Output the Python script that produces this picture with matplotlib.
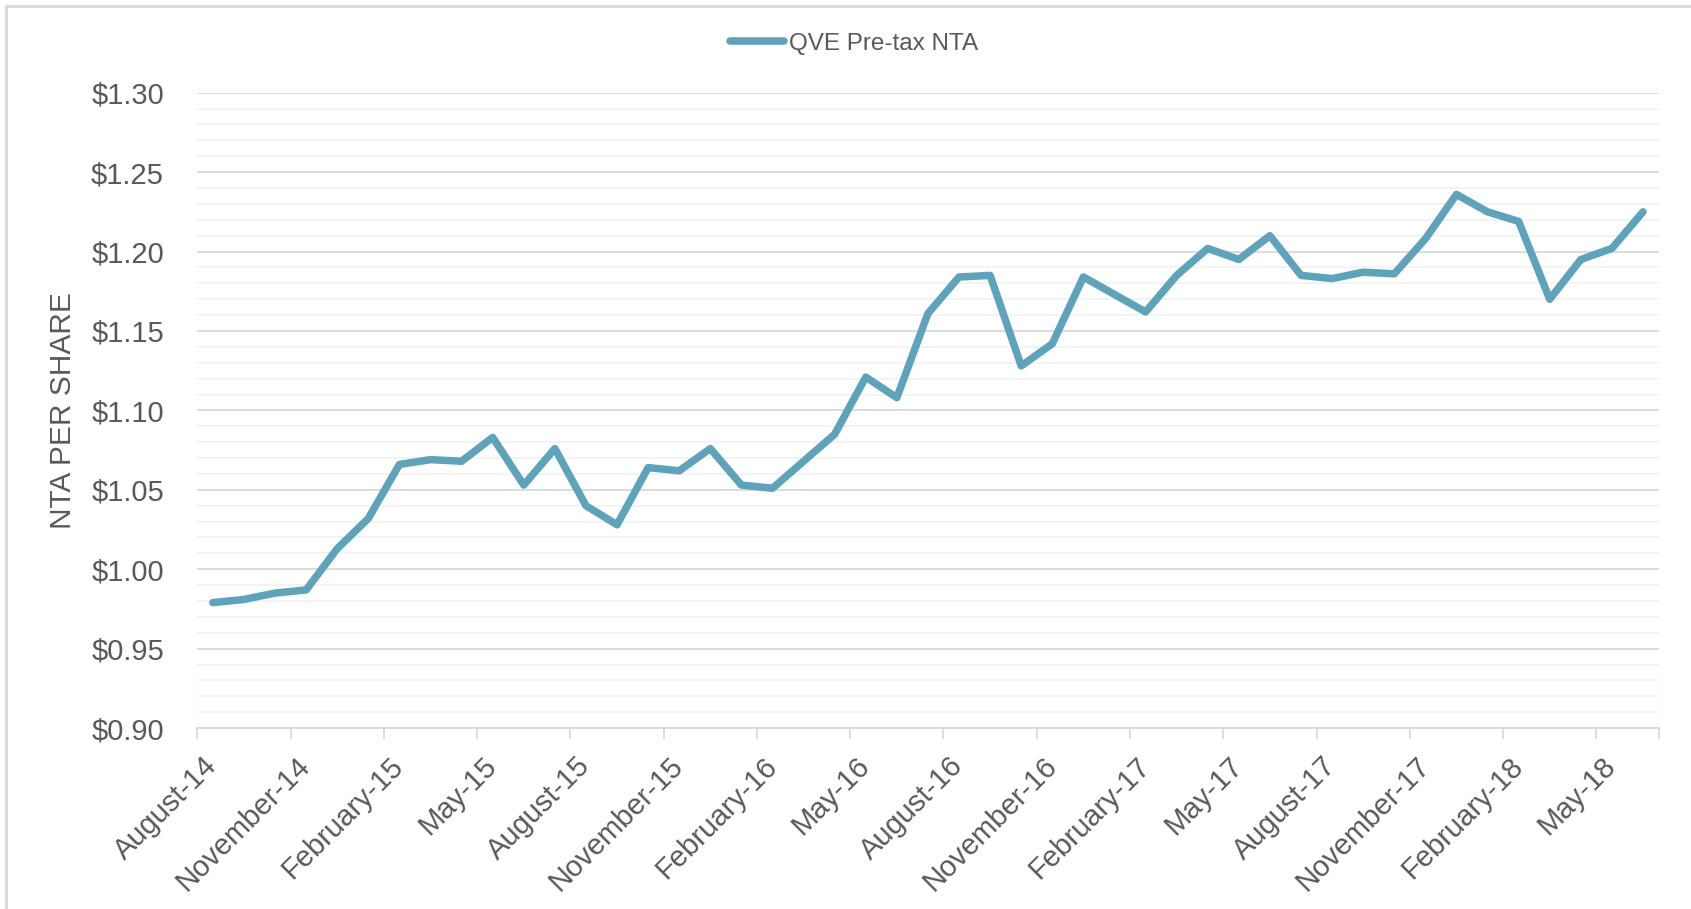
import matplotlib
matplotlib.use('Agg')
import matplotlib.pyplot as plt
import matplotlib.ticker as mtick
from matplotlib.patches import Rectangle

# monthly pre-tax NTA per share, Aug-14 .. Jun-18
months = ['August-14', 'September-14', 'October-14', 'November-14', 'December-14',
          'January-15', 'February-15', 'March-15', 'April-15', 'May-15', 'June-15',
          'July-15', 'August-15', 'September-15', 'October-15', 'November-15',
          'December-15', 'January-16', 'February-16', 'March-16', 'April-16',
          'May-16', 'June-16', 'July-16', 'August-16', 'September-16', 'October-16',
          'November-16', 'December-16', 'January-17', 'February-17', 'March-17',
          'April-17', 'May-17', 'June-17', 'July-17', 'August-17', 'September-17',
          'October-17', 'November-17', 'December-17', 'January-18', 'February-18',
          'March-18', 'April-18', 'May-18', 'June-18']
nta = [0.979, 0.981, 0.985, 0.987, 1.013, 1.032, 1.066, 1.069, 1.068, 1.083,
       1.053, 1.076, 1.040, 1.028, 1.064, 1.062, 1.076, 1.053, 1.051, 1.068,
       1.085, 1.121, 1.108, 1.161, 1.184, 1.185, 1.128, 1.142, 1.184, 1.173,
       1.162, 1.185, 1.202, 1.195, 1.210, 1.185, 1.183, 1.187, 1.186, 1.208,
       1.236, 1.225, 1.219, 1.170, 1.195, 1.202, 1.225]
series_name = 'QVE Pre-tax NTA'

plt.rcParams['font.family'] = ['Liberation Sans', 'DejaVu Sans']
txt = '#595959'

fig = plt.figure(figsize=(16.91, 9.09), dpi=100)
ax = fig.add_axes([0.1167, 0.199, 0.9808 - 0.1167, 0.898 - 0.199])

# outer frame (cut off at right/bottom as in the source)
fig.patches.append(Rectangle((6 / 1691, -0.1), 1.2, 1.1 - 6 / 909,
                             transform=fig.transFigure, fill=False,
                             edgecolor='#D9D9D9', lw=2))

x = list(range(len(months)))
ax.plot(x, nta, color='#5FA3BB', lw=5.4, solid_joinstyle='round',
        solid_capstyle='round', label=series_name, zorder=3)

ax.set_xlim(-0.5, len(months) - 0.5)
ax.set_ylim(0.90, 1.30)
ax.yaxis.set_major_locator(mtick.MultipleLocator(0.05))
ax.yaxis.set_minor_locator(mtick.MultipleLocator(0.01))
ax.yaxis.set_major_formatter(mtick.StrMethodFormatter('${x:.2f}'))
ax.grid(True, which='major', axis='y', color='#D9D9D9', lw=1.3)
ax.grid(True, which='minor', axis='y', color='#F2F2F2', lw=1.3)
ax.set_axisbelow(True)

ax.set_xticks(x[::3])
ax.set_xticklabels(months[::3], rotation=45, ha='right', va='center',
                   rotation_mode='anchor')
ax.set_xticks([i - 0.5 for i in x[::3]] + [len(months) - 0.5], minor=True)
ax.tick_params(axis='x', which='major', length=0, pad=24, labelsize=21, labelcolor=txt)
ax.tick_params(axis='x', which='minor', length=8, color='#D9D9D9', width=1.3)
ax.tick_params(axis='y', which='both', length=0, pad=24, labelsize=21, labelcolor=txt)

for s in ['top', 'right', 'left']:
    ax.spines[s].set_visible(False)
ax.spines['bottom'].set_color('#D9D9D9')
ax.spines['bottom'].set_linewidth(1.3)

ax.set_ylabel('NTA PER SHARE', fontsize=21.5, color=txt, labelpad=10)

fig.legend(loc='center', bbox_to_anchor=(0.505, 0.952), frameon=False,
           fontsize=17.5, labelcolor=txt, handlelength=2.2, handletextpad=0.2)

fig.savefig('out.png', dpi=100)
